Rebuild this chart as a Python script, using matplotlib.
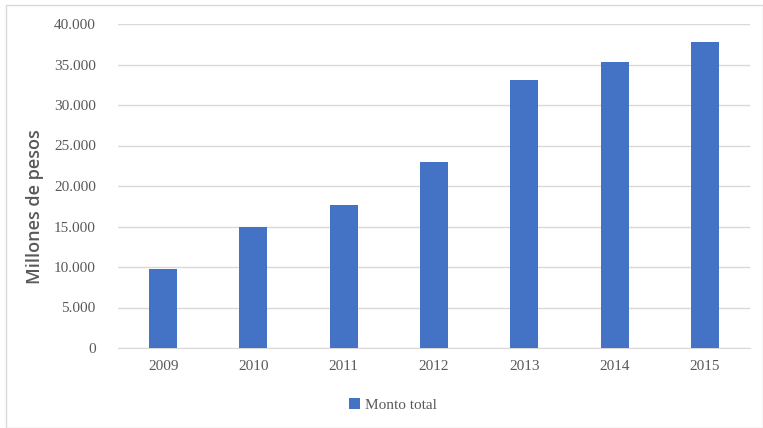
import matplotlib.pyplot as plt
from matplotlib.patches import Rectangle
from matplotlib.ticker import FuncFormatter

years = ['2009', '2010', '2011', '2012', '2013', '2014', '2015']
monto_total = [9800, 14900, 17600, 23000, 33100, 35300, 37800]
y_ticks = [0, 5000, 10000, 15000, 20000, 25000, 30000, 35000, 40000]

bar_color = '#4472C4'
text_color = '#595959'
grid_color = '#D9D9D9'
serif = ['Liberation Serif', 'DejaVu Serif']

fig = plt.figure(figsize=(7.63, 4.28), dpi=100)
ax = fig.add_axes([118 / 763, 1 - 348 / 428, (750 - 118) / 763, (348 - 24) / 428])

# outer frame of the chart
fig.patches.append(Rectangle((6 / 763, 0), 1 - 6 / 763, 1 - 5 / 428, transform=fig.transFigure,
                             fill=False, edgecolor='#D9D9D9', linewidth=1))

x = range(len(years))
ax.bar(x, monto_total, width=0.31, color=bar_color, label='Monto total', zorder=3)

ax.set_xlim(-0.5, len(years) - 0.5)
ax.set_ylim(0, 40000)
ax.set_yticks(y_ticks)
ax.yaxis.set_major_formatter(FuncFormatter(lambda v, p: f'{int(v):,}'.replace(',', '.')))
ax.set_xticks(list(x))
ax.set_xticklabels(years)
ax.grid(axis='y', color=grid_color, linewidth=1, zorder=0)
for s in ['top', 'right', 'left']:
    ax.spines[s].set_visible(False)
ax.spines['bottom'].set_color(grid_color)
ax.tick_params(axis='both', length=0, colors=text_color, labelsize=11)
ax.tick_params(axis='y', pad=16)
ax.tick_params(axis='x', pad=9)
for lbl in ax.get_xticklabels() + ax.get_yticklabels():
    lbl.set_family(serif)

# y label sits a bit lower than the axes centre in the original
fig.text(35 / 763, 1 - 207 / 428, 'Millones de pesos', rotation=90, ha='center', va='center',
         color=text_color, fontsize=13, family='Open Sans', fontweight='semibold')

leg = fig.legend(loc='center', bbox_to_anchor=(393 / 763, 1 - 405 / 428), frameon=False,
                 handlelength=0.7, handleheight=0.7, handletextpad=0.3,
                 prop={'family': serif, 'size': 11})
for t in leg.get_texts():
    t.set_color(text_color)

fig.savefig('out.png', dpi=100)
